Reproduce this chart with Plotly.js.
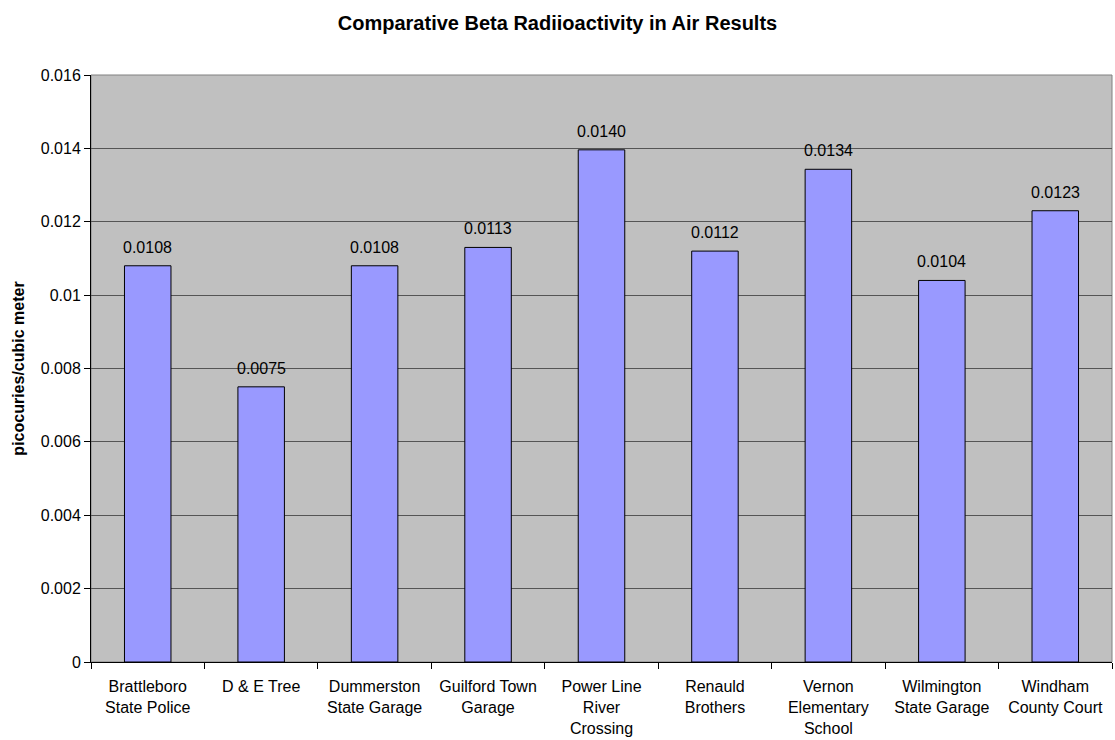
<!DOCTYPE html>
<html><head><meta charset="utf-8">
<script src="https://cdn.plot.ly/plotly-3.0.1.min.js"></script>
<style>body{margin:0;background:#fff}#c{width:1115px;height:740px}</style>
</head><body><div id="c"></div>
<script>
const categories = ["Brattleboro<br>State Police","D & E Tree","Dummerston<br>State Garage","Guilford Town<br>Garage","Power Line<br>River<br>Crossing","Renauld<br>Brothers","Vernon<br>Elementary<br>School","Wilmington<br>State Garage","Windham<br>County Court"];
const values = [0.0108, 0.0075, 0.0108, 0.0113, 0.01396, 0.0112, 0.01343, 0.0104, 0.0123];
const valueLabels = ["0.0108","0.0075","0.0108","0.0113","0.0140","0.0112","0.0134","0.0104","0.0123"];
const yTicks = [0, 0.002, 0.004, 0.006, 0.008, 0.01, 0.012, 0.014, 0.016];
const yTickText = ["0","0.002","0.004","0.006","0.008","0.01","0.012","0.014","0.016"];
const F = "Liberation Sans, Arial, sans-serif";
const annotations = categories.map((c, i) => ({
  x: c, y: values[i], xref: 'x', yref: 'y', text: valueLabels[i], showarrow: false,
  yanchor: 'bottom', yshift: 8, font: {family: F, size: 16, color: '#000'}
}));
Plotly.newPlot('c', [{
  type: 'bar', x: categories, y: values,
  marker: {color: '#9999FF', line: {color: '#000', width: 1}},
  cliponaxis: false, width: 0.41, hoverinfo: 'none'
}], {
  width: 1115, height: 740,
  margin: {l: 91, r: 3, t: 75, b: 78},
  paper_bgcolor: '#fff', plot_bgcolor: '#C0C0C0',
  font: {family: F, size: 16, color: '#000'},
  title: {text: '<b>Comparative Beta Radiioactivity in Air Results</b>', font: {family: F, size: 20}, x: 0.5, xanchor: 'center', y: 0.978},
  xaxis: {tickson: 'boundaries', ticks: 'outside', ticklen: 6, tickcolor: '#000', showline: true, linecolor: '#000', tickfont: {size: 16}, showgrid: false, ticklabelstandoff: 10},
  yaxis: {range: [0, 0.016], tickvals: yTicks, ticktext: yTickText, ticks: 'outside', ticklen: 6, tickcolor: '#000', showline: true, linecolor: '#000', gridcolor: '#555', gridwidth: 1, zeroline: false, tickfont: {size: 16},
    title: {text: '<b>picocuries/cubic meter</b>', font: {size: 16}, standoff: 12}},
  annotations: annotations,
  shapes: [{type: 'rect', xref: 'paper', yref: 'paper', x0: 0, x1: 1, y0: 0, y1: 1, line: {color: '#808080', width: 1}, layer: 'below'}],
  showlegend: false
}, {staticPlot: true});
</script></body></html>
